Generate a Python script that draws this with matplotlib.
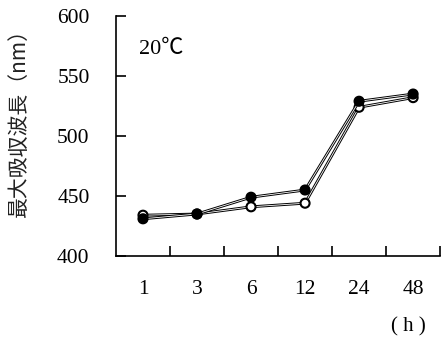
import matplotlib.pyplot as plt
import matplotlib.patheffects as pe
import numpy as np

# sampling times (h) and absorption maxima (nm)
hours = ["1", "3", "6", "12", "24", "48"]
filled_vals = [431, 435, 449, 455, 529, 535]
open_vals = [434, 435, 441, 444, 524, 532]
y_ticks = [400, 450, 500, 550, 600]

plt.rcParams['font.family'] = ['Liberation Serif', 'Noto Sans CJK JP']

fig = plt.figure(figsize=(4.41, 3.42), dpi=100)
ax = fig.add_axes([0.263, 0.2515, 0.735, 0.7015])

x = np.arange(len(hours))
hollow = [pe.Stroke(linewidth=2.0, foreground='black'), pe.Normal()]

ax.plot(x, open_vals, color='white', lw=0.6, path_effects=hollow,
        marker='o', ms=6, mfc='white', mec='black', mew=1.0, zorder=3)
ax.plot(x, filled_vals, color='white', lw=0.6, path_effects=hollow,
        marker='o', ms=6, mfc='black', mec='black', mew=1.0, zorder=4)

ax.set_xlim(-0.5, len(hours) - 0.5)
ax.set_ylim(400, 600)

ax.set_xticks(x)
ax.set_xticklabels(hours)
ax.set_xticks(np.arange(len(hours)) + 0.5, minor=True)
ax.tick_params(axis='x', which='major', length=0, pad=17, labelsize=15.5)
ax.tick_params(axis='x', which='minor', direction='in', length=7, width=1.2)

ax.set_yticks(y_ticks)
ax.tick_params(axis='y', direction='in', length=7, width=1.2, pad=19,
               labelsize=15.5)

for side in ('top', 'right'):
    ax.spines[side].set_visible(False)
for side in ('left', 'bottom'):
    ax.spines[side].set_linewidth(1.2)

ax.text(0.07, 0.84, "20℃", transform=ax.transAxes, fontsize=16,
        family=['Liberation Serif', 'Noto Sans CJK JP'])

fig.text(0.042, 0.655, "最大吸収波長（nm）", rotation=90, ha='center',
         va='center', fontsize=15, color='#222222',
         family=['Noto Sans CJK JP', 'DejaVu Sans'])
fig.text(0.925, 0.045, "( h )", ha='center', va='center', fontsize=15)

fig.savefig("out.png", dpi=100)
